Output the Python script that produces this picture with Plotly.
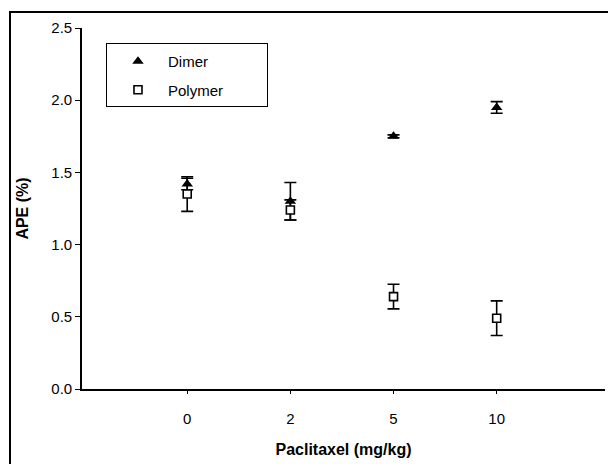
import plotly.graph_objects as go

# Paclitaxel dose groups (mg/kg)
doses = ["0", "2", "5", "10"]

# APE (%) of the dimer and polymer fractions, mean and error
dimer = [1.42, 1.30, 1.75, 1.95]
dimer_err = [0.04, 0.13, 0.01, 0.04]
polymer = [1.35, 1.24, 0.64, 0.49]
polymer_err = [0.12, 0.07, 0.085, 0.12]

y_ticks = [0.0, 0.5, 1.0, 1.5, 2.0, 2.5]
y_tick_labels = ["0.0", "0.5", "1.0", "1.5", "2.0", "2.5"]

FONT = "Liberation Sans, Arial, sans-serif"

# page size and pixel layout of the data area
W, H = 608, 464
PLOT_L, PLOT_R, PLOT_T, PLOT_B = 82, 605, 28, 389


def fx(px):
    return px / W


def fy(py):
    return 1 - py / H


fig = go.Figure()

fig.add_trace(go.Scatter(
    x=doses, y=dimer, mode="markers", name="Dimer",
    legendgroup="d",
    marker=dict(symbol="triangle-up", size=10, color="black"),
    error_y=dict(type="data", array=dimer_err, visible=True,
                 color="black", thickness=1.6, width=6),
))
fig.add_trace(go.Scatter(
    x=doses, y=polymer, mode="markers", name="Polymer",
    legendgroup="p",
    marker=dict(symbol="square", size=8, color="white",
                line=dict(color="black", width=1.6)),
    error_y=dict(type="data", array=polymer_err, visible=True,
                 color="black", thickness=1.6, width=6),
))

# empty helper subplots: outer frame (x2/y2) and legend box (x3/y3)
for ax in ("2", "3"):
    fig.add_trace(go.Scatter(x=[], y=[], xaxis="x" + ax, yaxis="y" + ax,
                             showlegend=False, hoverinfo="skip"))

bare = dict(showgrid=False, zeroline=False, showticklabels=False,
            ticks="", range=[0, 1], fixedrange=True)

fig.update_layout(
    width=W, height=H,
    margin=dict(l=0, r=0, t=0, b=0, autoexpand=False),
    paper_bgcolor="white", plot_bgcolor="rgba(0,0,0,0)",
    font=dict(family=FONT, size=15, color="black"),
    showlegend=True,
    legend=dict(
        x=fx(108), y=fy(45), xanchor="left", yanchor="top",
        bgcolor="rgba(0,0,0,0)", borderwidth=0,
        font=dict(family=FONT, size=15, color="black"),
        itemwidth=50, traceorder="grouped", tracegroupgap=6,
    ),
    xaxis=dict(
        domain=[fx(PLOT_L), fx(PLOT_R)], anchor="y",
        type="category", range=[-1.02, 4.05],
        showline=True, linecolor="black", linewidth=1.6,
        ticks="outside", ticklen=3, tickcolor="black", tickwidth=1,
        ticklabelstandoff=12,
        showgrid=False, zeroline=False,
        title=dict(text="<b>Paclitaxel (mg/kg)</b>",
                   font=dict(family=FONT, size=16), standoff=18),
    ),
    yaxis=dict(
        domain=[fy(PLOT_B), fy(PLOT_T)], anchor="x",
        range=[0, 2.5], tickvals=y_ticks, ticktext=y_tick_labels,
        showline=True, linecolor="black", linewidth=1.6,
        ticks="outside", ticklen=5, tickcolor="black", tickwidth=1.3,
        showgrid=False, zeroline=False,
        title=dict(text="<b>APE (%)</b>",
                   font=dict(family=FONT, size=16), standoff=19),
    ),
    # outer frame: only its left and top edges fall on the page
    xaxis2=dict(bare, domain=[fx(11), 1], anchor="y2", side="top",
                showline=True, linecolor="black", linewidth=1.5),
    yaxis2=dict(bare, domain=[0, fy(13)], anchor="x2", side="left",
                showline=True, linecolor="black", linewidth=1.5),
    # box drawn around the legend entries
    xaxis3=dict(bare, domain=[fx(107), fx(267)], anchor="y3",
                showline=True, mirror=True, linecolor="black", linewidth=1.2),
    yaxis3=dict(bare, domain=[fy(106), fy(44)], anchor="x3",
                showline=True, mirror=True, linecolor="black", linewidth=1.2),
)

fig.write_html("out.html")
